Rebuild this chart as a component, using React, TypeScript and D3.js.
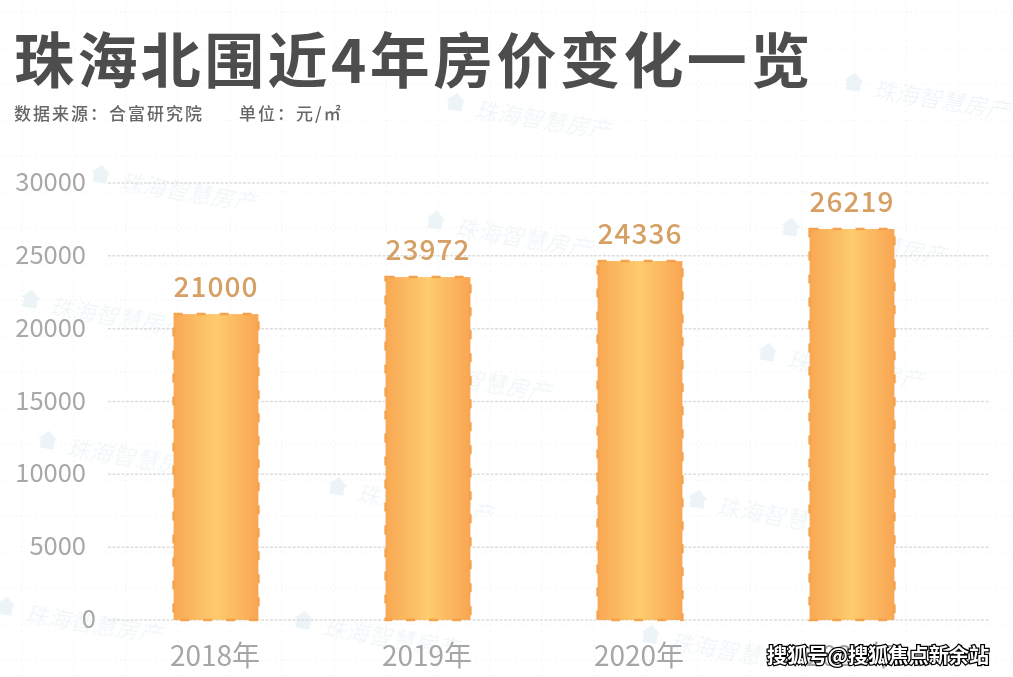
import React from 'react';
import * as d3 from 'd3';

const title = '珠海北围近4年房价变化一览';
const sourceText = '数据来源：合富研究院';
const unitText = '单位：元/㎡';

const years = ['2018年', '2019年', '2020年', '2021年'];
// printed labels
const priceLabels = [21000, 23972, 24336, 26219];
// bar heights as read against the axis, the source image does not draw them to the printed value
const barValues = [21000, 23540, 24640, 26840];
const yTicks = [0, 5000, 10000, 15000, 20000, 25000, 30000];

const watermarkText = '珠海智慧房产';
const watermarks = [
  [868, 88], [470, 108], [115, 180], [450, 226], [805, 233],
  [45, 305], [410, 370], [782, 358], [62, 446], [352, 492],
  [712, 505], [20, 612], [318, 626], [665, 640],
];
const creditText = '搜狐号@搜狐焦点新余站';

const WIDTH = 1013;
const HEIGHT = 677;
const CJK = '"Noto Sans CJK SC", "Noto Sans", sans-serif';

const y = d3.scaleLinear().domain([0, 30000]).range([620, 183]);
const x = d3.scaleBand().domain(years).range([110, 958]).paddingInner(0.6).paddingOuter(0.3);

const App = () => {
  const gridX = d3.range(22, WIDTH, 52);
  const gridY = d3.range(12, HEIGHT, 36);

  return (
    <svg width={WIDTH} height={HEIGHT} style={{ position: 'absolute', left: 0, top: 0, background: '#fff' }}>
      <defs>
        <linearGradient id="barFill" x1="0" x2="1" y1="0" y2="0">
          <stop offset="0%" stopColor="#f9a853" />
          <stop offset="50%" stopColor="#fdcb6d" />
          <stop offset="100%" stopColor="#f9a653" />
        </linearGradient>
        <filter id="soft">
          <feGaussianBlur stdDeviation="0.45" />
        </filter>
        <filter id="softer">
          <feGaussianBlur stdDeviation="0.7" />
        </filter>
      </defs>

      {/* faint paper grid */}
      <g stroke="#f4f4f4" strokeDasharray="2 3">
        {gridX.map(d => <line key={d} x1={d} x2={d} y1={0} y2={HEIGHT} />)}
        {gridY.map(d => <line key={d} x1={0} x2={WIDTH} y1={d} y2={d} />)}
      </g>

      {/* watermarks */}
      <g fill="#edf4f7" fontFamily={CJK} fontSize={23} fontWeight={300} fontStyle="italic" filter="url(#softer)">
        {watermarks.map(([wx, wy], i) => (
          <g key={i} transform={`translate(${wx},${wy}) rotate(9)`}>
            <path d="M-25 -4 L-15 -13 L-5 -4 L-8 -4 L-8 5 L-22 5 L-22 -4 Z" />
            <text x={5} y={9}>{watermarkText}</text>
          </g>
        ))}
      </g>

      <g filter="url(#soft)">
        <text x={14} y={83} fontFamily={CJK} fontSize={60} fontWeight={700} letterSpacing={3.4} fill="#4d4d4d">{title}</text>
        <text x={14} y={120} fontFamily={CJK} fontSize={17} fontWeight={500} letterSpacing={2} fill="#666">{sourceText}</text>
        <text x={239} y={120} fontFamily={CJK} fontSize={17} fontWeight={500} letterSpacing={2} fill="#666">{unitText}</text>

        {yTicks.map(t => (
          <g key={t}>
            <line x1={108} x2={990} y1={y(t)} y2={y(t)} stroke="#dedede" strokeWidth={1.5} strokeDasharray="3 1.5" />
            <text x={t === 0 ? 96 : 86} y={y(t) + 8} textAnchor="end" fontFamily={CJK} fontSize={25.5} fill="#a8a8a8">{t}</text>
          </g>
        ))}

        {years.map((year, i) => {
          const bx = x(year) as number;
          const bw = x.bandwidth();
          const cx = bx + bw / 2;
          return (
            <g key={year}>
              <rect x={bx} y={y(barValues[i])} width={bw} height={y(0) - y(barValues[i])} fill="url(#barFill)" />
              <rect x={bx} y={y(barValues[i])} width={bw} height={y(0) - y(barValues[i])} fill="none" stroke="#f5a24e" strokeWidth={2.5} strokeDasharray="9 14" />
              <text x={cx} y={y(barValues[i]) - 17} textAnchor="middle" fontFamily={CJK} fontSize={28} fontWeight={500} letterSpacing={1} fill="#d69f63">{priceLabels[i]}</text>
              <text x={cx - 1} y={666} textAnchor="middle" fontFamily={CJK} fontSize={28} fill="#a6a6a6">{year}</text>
            </g>
          );
        })}
      </g>

      <text x={767} y={663} fontFamily={CJK} fontSize={20.2} fontWeight={700} fill="#fff" stroke="#000" strokeWidth={2.5} paintOrder="stroke">{creditText}</text>
    </svg>
  );
};

export default App;
